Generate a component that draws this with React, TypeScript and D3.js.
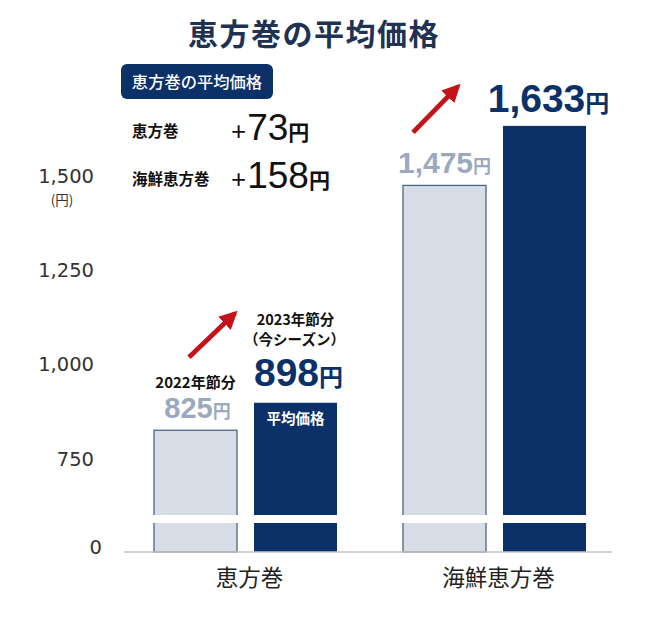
import React from 'react';
import * as d3 from 'd3';

const title = '恵方巻の平均価格';
const legendTitle = '恵方巻の平均価格';
const categories = ['恵方巻', '海鮮恵方巻'];
const seasons = ['2022年節分', '2023年節分'];
const seasonSub = '（今シーズン）';
const values2022 = [825, 1475];
const values2023 = [898, 1633];
const increases = [73, 158];
const yTicks = [0, 750, 1000, 1250, 1500];
const yUnit = '(円)';
const barInnerLabel = '平均価格';

const W = 650;
const H = 624;
const NAVY = '#0c3068';
const LIGHT = '#d6dde7';
const LIGHT_STROKE = '#4d6588';
const LIGHT_TEXT = '#9aa9be';
const RED = '#c4121a';
const JP = '"Noto Sans CJK JP", "Noto Sans", sans-serif';
const NUM = '"Liberation Sans", Arial, sans-serif';
const AX = '"DejaVu Sans", Verdana, sans-serif';

const fmt = d3.format(',');

export default function App() {
  const y = d3.scaleLinear().domain([0, 600, 1500]).range([552, 515, 176]);
  const x0 = d3.scaleBand<string>().domain(categories).range([121, 619]).paddingInner(0.265).paddingOuter(0.1325);
  const x1 = d3.scaleBand<string>().domain(seasons).range([0, x0.bandwidth()]).paddingInner(0.17);
  const breakTop = y(600);
  const breakH = 8;

  const arrowOffsets = [
    { tx: 35, ty: -73, hx: 81, hy: -117 },
    { tx: 10, ty: -53, hx: 55, hy: -99 },
  ];

  return (
    <svg width={W} height={H} style={{ position: 'absolute', left: 0, top: 0, background: '#fff' }}>
      <defs>
        <marker id="ah" viewBox="0 0 10 10" refX="8" refY="5" markerWidth="3.8" markerHeight="3.8" orient="auto">
          <path d="M0,0 L10,5 L0,10 z" fill={RED} />
        </marker>
      </defs>
      {/* title */}
      <text x={314} y={45} textAnchor="middle" fontFamily={JP} fontWeight={700} fontSize={30} letterSpacing={1.5} fill="#1f3252">{title}</text>

      {/* legend box */}
      <rect x={121} y={64} width={152} height={35} rx={6} fill={NAVY} />
      <text x={197} y={88} textAnchor="middle" fontFamily={JP} fontWeight={500} fontSize={16.3} fill="#fff">{legendTitle}</text>
      {categories.map((c, i) => {
        const base = 140 + i * 48;
        return (
          <g key={c}>
            <text x={132} y={base - 3} fontFamily={JP} fontWeight={700} fontSize={15.5} fill="#111">{c}</text>
            <text x={231} y={base} fontFamily={NUM} fontSize={26} fill="#111">
              +
              <tspan fontSize={37} dx={1}>{increases[i]}</tspan>
              <tspan fontFamily={JP} fontWeight={700} fontSize={21}>円</tspan>
            </text>
          </g>
        );
      })}

      {/* y axis labels */}
      {yTicks.map((t) => (
        <text key={t} x={t === 0 ? 102 : 94} y={t === 0 ? y(t) - 5 : y(t)} dy="0.36em" textAnchor="end" fontFamily={AX} fontSize={19.5} fill="#333">{fmt(t)}</text>
      ))}
      <text x={62} y={y(1500) + 24} dy="0.36em" textAnchor="middle" fontFamily={JP} fontSize={13.5} fill="#333">{yUnit}</text>

      {/* bars */}
      {categories.map((c, i) => {
        const gx = x0(c)!;
        const v = [values2022[i], values2023[i]];
        return (
          <g key={c} transform={`translate(${gx},0)`}>
            {seasons.map((s, j) => (
              <rect key={s} x={x1(s)!} y={y(v[j])} width={x1.bandwidth()} height={y(0) - y(v[j])}
                fill={j === 0 ? LIGHT : NAVY} stroke={j === 0 ? LIGHT_STROKE : 'none'} strokeWidth={1.3} />
            ))}
          </g>
        );
      })}
      {/* axis break */}
      <rect x={x0.range()[0]} y={breakTop} width={x0.range()[1] - x0.range()[0]} height={breakH} fill="#fff" />
      {/* baseline */}
      <line x1={124} x2={612} y1={y(0)} y2={y(0)} stroke="#c4c4c4" strokeWidth={1.3} />

      {/* category labels */}
      {categories.map((c) => (
        <text key={c} x={x0(c)! + x0.bandwidth() / 2 + 4} y={578} dy="0.36em" textAnchor="middle" fontFamily={JP} fontSize={22.5} fill="#222">{c}</text>
      ))}

      {/* annotations */}
      {categories.map((c, i) => {
        const gx = x0(c)!;
        const lx = gx + x1(seasons[0])! + x1.bandwidth() / 2;
        const dx = gx + x1(seasons[1])! + x1.bandwidth() / 2;
        const big = i === 0;
        const yl = y(values2022[i]);
        const yd = y(values2023[i]);
        const a = arrowOffsets[i];
        const bx = gx + x1(seasons[0])!;
        return (
          <g key={c}>
            {i === 0 && (
              <>
                <text x={lx} y={yl - 48} dy="0.36em" textAnchor="middle" fontFamily={JP} fontWeight={700} fontSize={15} fill="#111">{seasons[0]}</text>
                <text x={dx} y={yd - 83} dy="0.36em" textAnchor="middle" fontFamily={JP} fontWeight={700} fontSize={14.5} fill="#111">{seasons[1]}</text>
                <text x={dx - 1} y={yd - 63} dy="0.36em" textAnchor="middle" fontFamily={JP} fontWeight={700} fontSize={14.5} fill="#111">{seasonSub}</text>
                <text x={dx} y={yd + 16} dy="0.36em" textAnchor="middle" fontFamily={JP} fontWeight={700} fontSize={14.5} fill="#fff">{barInnerLabel}</text>
              </>
            )}
            <text x={lx + (big ? 2 : 0)} y={yl - 12} textAnchor="middle" fontFamily={NUM} fontWeight={700} fontSize={big ? 29 : 30} fill={LIGHT_TEXT}>
              {fmt(values2022[i])}
              <tspan fontFamily={JP} fontWeight={700} fontSize={18}>円</tspan>
            </text>
            <text x={dx + (big ? 3 : 4)} y={yd - (big ? 17 : 14)} textAnchor="middle" fontFamily={NUM} fontWeight={700} fontSize={39} fill={NAVY}>
              {fmt(values2023[i])}
              <tspan fontFamily={JP} fontWeight={700} fontSize={24}>円</tspan>
            </text>
            <line x1={bx + a.tx} y1={yl + a.ty} x2={bx + a.hx} y2={yl + a.hy} stroke={RED} strokeWidth={4.8} markerEnd="url(#ah)" />
          </g>
        );
      })}
    </svg>
  );
}
